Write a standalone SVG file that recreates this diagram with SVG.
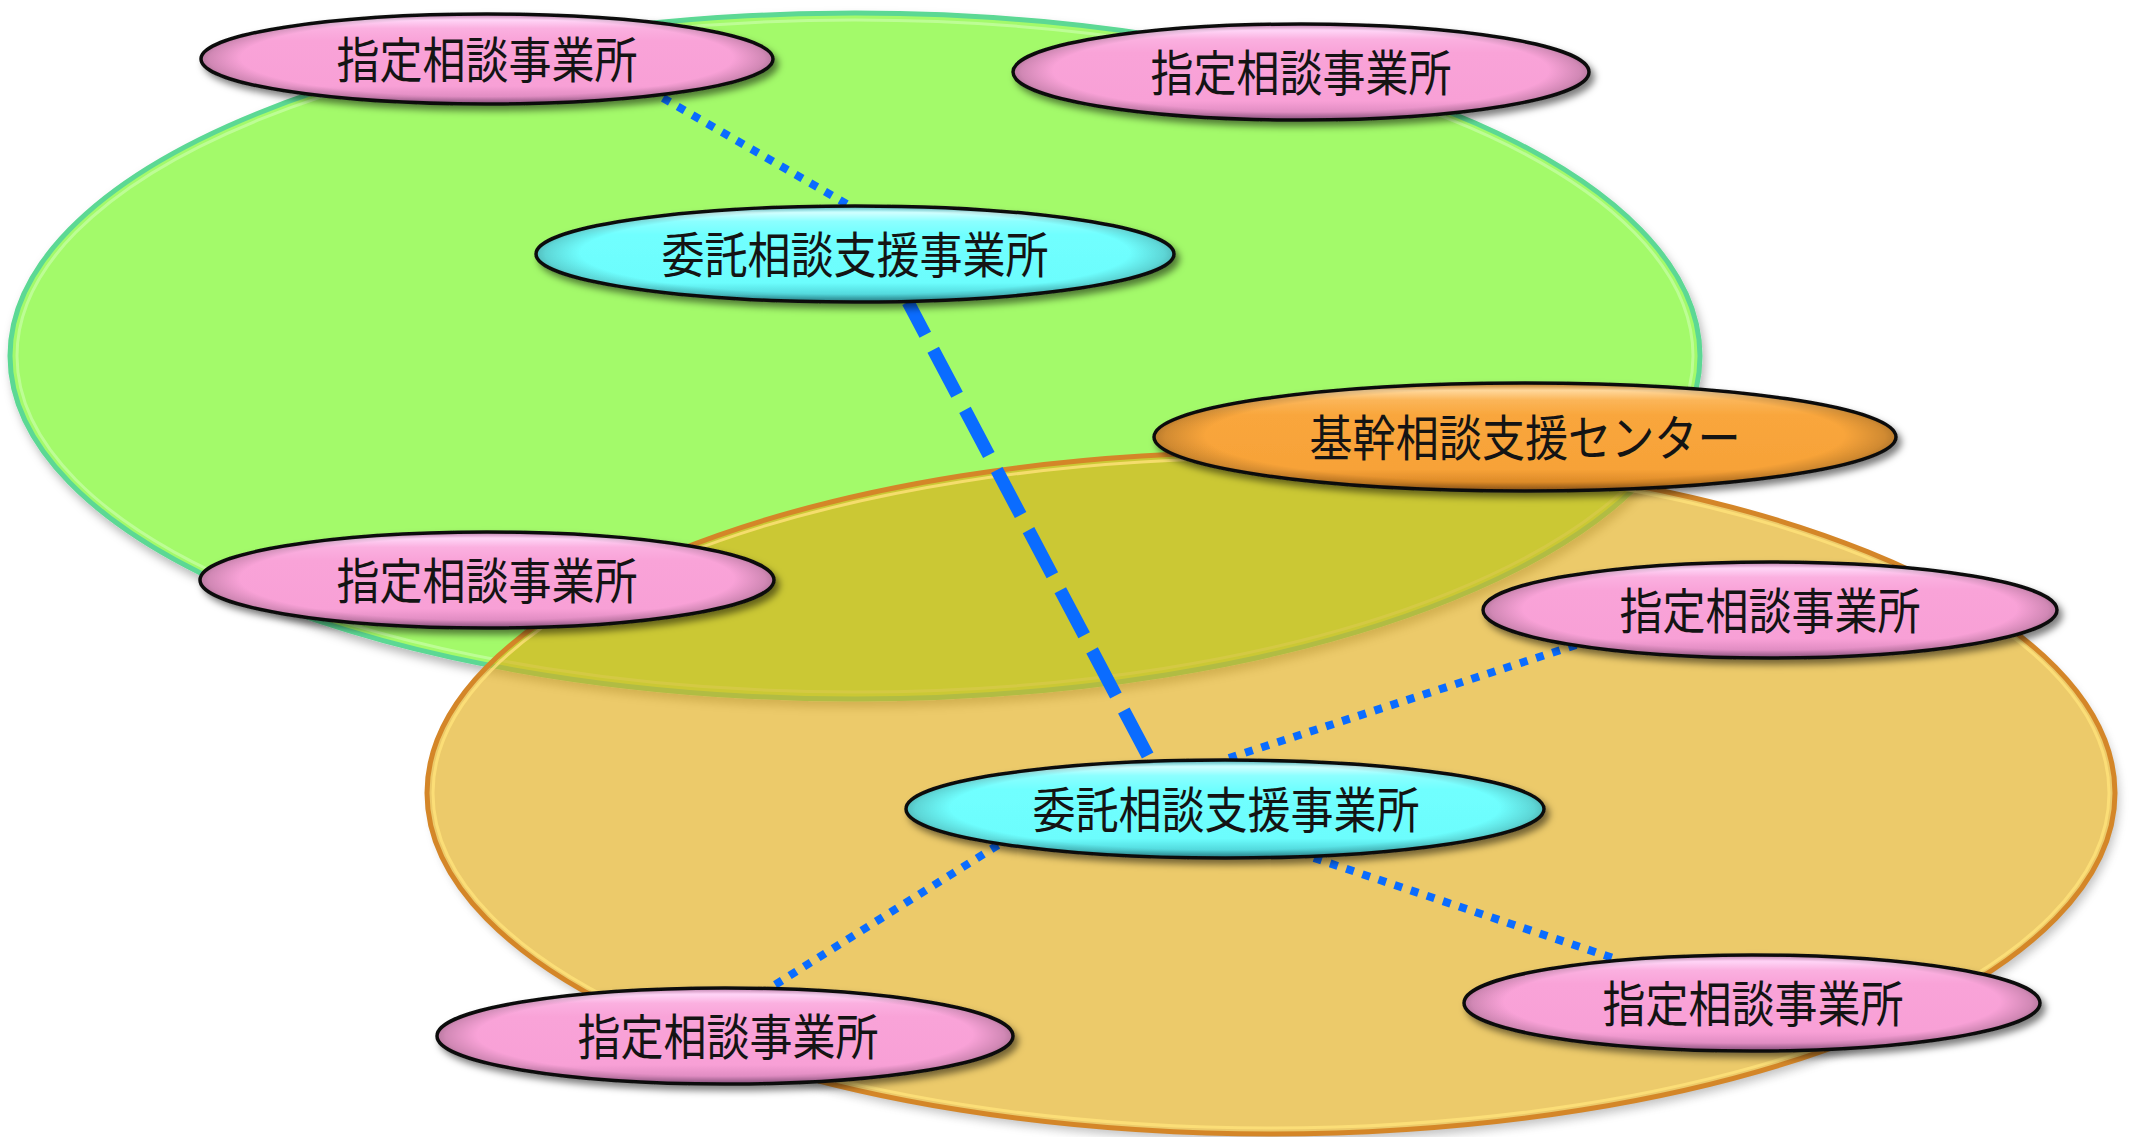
<svg xmlns="http://www.w3.org/2000/svg" width="2129" height="1137" viewBox="0 0 2129 1137">
<style>
  .b{stroke:#111;stroke-width:3.5}
  .lbl{font-family:"Noto Sans CJK JP","Noto Sans CJK SC",sans-serif;font-size:49px;fill:#141414;text-anchor:middle}
  .dot{fill:none;stroke:#0A6CFF;stroke-width:8;stroke-dasharray:8 9}
  .dash{fill:none;stroke:#0A6CFF;stroke-width:13;stroke-dasharray:51 17;stroke-dashoffset:14}
</style>
<defs>
  <linearGradient id="gPink" x1="0" y1="0" x2="0" y2="1">
    <stop offset="0" stop-color="#E59AD0"/>
    <stop offset="0.07" stop-color="#FFD4F6"/>
    <stop offset="0.16" stop-color="#FBB0E0"/>
    <stop offset="0.3" stop-color="#F9A3D8"/>
    <stop offset="0.8" stop-color="#F8A0D6"/>
    <stop offset="0.92" stop-color="#E08CC2"/>
    <stop offset="1" stop-color="#A8649A"/>
  </linearGradient>
  <linearGradient id="gCyan" x1="0" y1="0" x2="0" y2="1">
    <stop offset="0" stop-color="#5CD8E0"/>
    <stop offset="0.07" stop-color="#D0FFFF"/>
    <stop offset="0.16" stop-color="#8CFFFF"/>
    <stop offset="0.3" stop-color="#70FFFF"/>
    <stop offset="0.8" stop-color="#6CFDFD"/>
    <stop offset="0.92" stop-color="#52D8DC"/>
    <stop offset="1" stop-color="#2E96A0"/>
  </linearGradient>
  <linearGradient id="gOrg" x1="0" y1="0" x2="0" y2="1">
    <stop offset="0" stop-color="#E0902C"/>
    <stop offset="0.07" stop-color="#FFD79A"/>
    <stop offset="0.16" stop-color="#FBB558"/>
    <stop offset="0.3" stop-color="#F9A63C"/>
    <stop offset="0.8" stop-color="#F7A238"/>
    <stop offset="0.92" stop-color="#DC8A28"/>
    <stop offset="1" stop-color="#A4621A"/>
  </linearGradient>
  <radialGradient id="shade" cx="0.5" cy="0.5" r="0.5" fx="0.5" fy="0.4">
    <stop offset="0" stop-color="#000" stop-opacity="0"/>
    <stop offset="0.86" stop-color="#000" stop-opacity="0"/>
    <stop offset="0.97" stop-color="#000" stop-opacity="0.16"/>
    <stop offset="1" stop-color="#000" stop-opacity="0.26"/>
  </radialGradient>
  <filter id="nsh" x="-10%" y="-30%" width="125%" height="170%">
    <feDropShadow dx="4" dy="5" stdDeviation="3.5" flood-color="#000" flood-opacity="0.5"/>
  </filter>
  <filter id="gsh" x="-5%" y="-5%" width="112%" height="115%">
    <feDropShadow dx="3" dy="6" stdDeviation="5" flood-color="#000" flood-opacity="0.28"/>
  </filter>
  <filter id="blur" x="-5%" y="-5%" width="112%" height="115%">
    <feGaussianBlur stdDeviation="5"/>
  </filter>
  <mask id="outOr">
    <rect width="2129" height="1137" fill="#fff"/>
    <ellipse cx="1271" cy="793" rx="844" ry="341" fill="#000"/>
  </mask>
</defs>

<g id="area-green">
  <ellipse cx="855" cy="356" rx="845" ry="343" fill="#A3FA6A" stroke="#5CD894" stroke-width="5" filter="url(#gsh)"/>
  <ellipse cx="855" cy="356" rx="838" ry="336" fill="none" stroke="#D4FFB8" stroke-width="3" stroke-opacity="0.55"/>
</g>

<g id="area-orange">
  <ellipse cx="1275" cy="800" rx="844" ry="341" fill="#555" opacity="0.35" filter="url(#blur)" mask="url(#outOr)"/>
  <ellipse cx="1271" cy="793" rx="844" ry="341" fill="rgb(225,172,22)" fill-opacity="0.64"/>
  <ellipse cx="1271" cy="793" rx="838" ry="335" fill="none" stroke="#FFE27A" stroke-width="3" stroke-opacity="0.8"/>
  <ellipse cx="1271" cy="793" rx="844" ry="341" fill="none" stroke="#D48628" stroke-width="5"/>
</g>

<g id="connectors">
  <line class="dot" x1="663" y1="98" x2="852" y2="207"/>
  <line class="dash" x1="908" y1="302" x2="1150" y2="760"/>
  <line class="dot" x1="1229" y1="758" x2="1579" y2="644"/>
  <line class="dot" x1="998" y1="845" x2="770" y2="988"/>
  <line class="dot" x1="1314" y1="858" x2="1616" y2="959"/>
</g>

<g id="n-shitei-tl">
  <ellipse class="b" cx="487" cy="59" rx="286" ry="45" fill="url(#gPink)" filter="url(#nsh)"/>
  <ellipse cx="487" cy="59" rx="286" ry="45" fill="url(#shade)"/>
  <text class="lbl" x="487" y="78" textLength="301" lengthAdjust="spacingAndGlyphs">指定相談事業所</text>
</g>
<g id="n-shitei-tr">
  <ellipse class="b" cx="1301" cy="72" rx="288" ry="48" fill="url(#gPink)" filter="url(#nsh)"/>
  <ellipse cx="1301" cy="72" rx="288" ry="48" fill="url(#shade)"/>
  <text class="lbl" x="1301" y="91" textLength="301" lengthAdjust="spacingAndGlyphs">指定相談事業所</text>
</g>
<g id="n-itaku-top">
  <ellipse class="b" cx="855" cy="254" rx="319" ry="48" fill="url(#gCyan)" filter="url(#nsh)"/>
  <ellipse cx="855" cy="254" rx="319" ry="48" fill="url(#shade)"/>
  <text class="lbl" x="855" y="273" textLength="387" lengthAdjust="spacingAndGlyphs">委託相談支援事業所</text>
</g>
<g id="n-kikan">
  <ellipse class="b" cx="1525" cy="437" rx="371" ry="54" fill="url(#gOrg)" filter="url(#nsh)"/>
  <ellipse cx="1525" cy="437" rx="371" ry="54" fill="url(#shade)"/>
  <text class="lbl" x="1525" y="456" textLength="431" lengthAdjust="spacingAndGlyphs">基幹相談支援センター</text>
</g>
<g id="n-shitei-ml">
  <ellipse class="b" cx="487" cy="580" rx="287" ry="48" fill="url(#gPink)" filter="url(#nsh)"/>
  <ellipse cx="487" cy="580" rx="287" ry="48" fill="url(#shade)"/>
  <text class="lbl" x="487" y="599" textLength="301" lengthAdjust="spacingAndGlyphs">指定相談事業所</text>
</g>
<g id="n-shitei-mr">
  <ellipse class="b" cx="1770" cy="610" rx="287" ry="48" fill="url(#gPink)" filter="url(#nsh)"/>
  <ellipse cx="1770" cy="610" rx="287" ry="48" fill="url(#shade)"/>
  <text class="lbl" x="1770" y="629" textLength="301" lengthAdjust="spacingAndGlyphs">指定相談事業所</text>
</g>
<g id="n-itaku-bottom">
  <ellipse class="b" cx="1225" cy="809" rx="319" ry="49" fill="url(#gCyan)" filter="url(#nsh)"/>
  <ellipse cx="1225" cy="809" rx="319" ry="49" fill="url(#shade)"/>
  <text class="lbl" x="1226" y="828" textLength="387" lengthAdjust="spacingAndGlyphs">委託相談支援事業所</text>
</g>
<g id="n-shitei-bl">
  <ellipse class="b" cx="725" cy="1036" rx="288" ry="48" fill="url(#gPink)" filter="url(#nsh)"/>
  <ellipse cx="725" cy="1036" rx="288" ry="48" fill="url(#shade)"/>
  <text class="lbl" x="728" y="1055" textLength="301" lengthAdjust="spacingAndGlyphs">指定相談事業所</text>
</g>
<g id="n-shitei-br">
  <ellipse class="b" cx="1752" cy="1003" rx="288" ry="48" fill="url(#gPink)" filter="url(#nsh)"/>
  <ellipse cx="1752" cy="1003" rx="288" ry="48" fill="url(#shade)"/>
  <text class="lbl" x="1753" y="1022" textLength="301" lengthAdjust="spacingAndGlyphs">指定相談事業所</text>
</g>
</svg>
